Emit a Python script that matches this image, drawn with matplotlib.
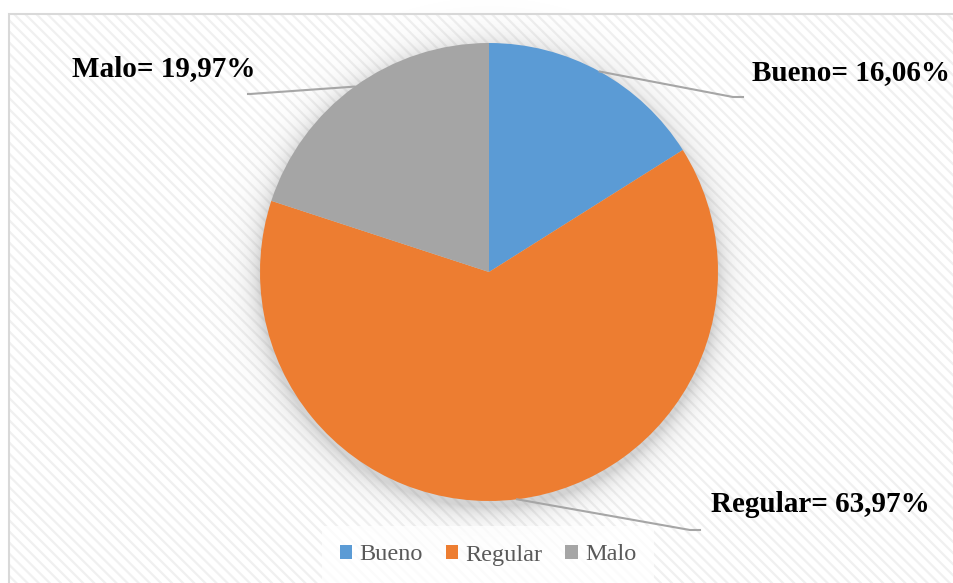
import numpy as np
import matplotlib
matplotlib.use("Agg")
import matplotlib.pyplot as plt
from matplotlib.patches import Rectangle, Patch
from matplotlib.font_manager import FontProperties, findfont

# datos del grafico
categorias = ["Bueno", "Regular", "Malo"]
porcentajes = [16.06, 63.97, 19.97]
colores = ["#5b9bd5", "#ed7d31", "#a5a5a5"]
etiquetas = ["Bueno= 16,06%", "Regular= 63,97%", "Malo= 19,97%"]

W, H = 954, 583
plt.rcParams["hatch.linewidth"] = 1.6

# fuente serif negrita tomada directo del archivo
ruta_negrita = findfont(FontProperties(family="Liberation Serif", weight="bold"))
fuente_et = FontProperties(fname=ruta_negrita, size=21)

fig = plt.figure(figsize=(W / 100, H / 100), dpi=100)
ax = fig.add_axes([0, 0, 1, 1])
ax.set_xlim(0, W)
ax.set_ylim(0, H)
ax.set_aspect("equal")
ax.axis("off")

# fondo con rayas diagonales y marco
ax.add_patch(Rectangle((9, -5), W, H - 14 + 5, facecolor="white",
                       edgecolor="#f0f0f0", linewidth=0, hatch="\\\\\\", zorder=0))
ax.add_patch(Rectangle((9, -5), W, H - 14 + 5, facecolor="none",
                       edgecolor="#d9d9d9", linewidth=1.5, zorder=1))

# centro y radio del pastel (en pixeles, y hacia arriba)
cx, cy, r = 489, H - 272, 229

# sombra difusa alrededor del pastel
xx, yy = np.meshgrid(np.arange(W) + 0.5, np.arange(H) + 0.5)
d = np.hypot(xx - cx, yy - (cy - 6)) - r
alfa = np.where(d > 0, 0.28 * np.exp(-d / 12.0), 0.28)
sombra = np.zeros((H, W, 4))
sombra[..., :3] = 0.4
sombra[..., 3] = alfa
ax.imshow(sombra, extent=(0, W, 0, H), origin="lower", zorder=2,
          interpolation="bilinear")

ax.pie(porcentajes, colors=colores, startangle=90, counterclock=False,
       center=(cx, cy), radius=r, frame=True,
       wedgeprops=dict(linewidth=0, zorder=3))
ax.set_xlim(0, W)
ax.set_ylim(0, H)
ax.axis("off")

# lineas guia y etiquetas
codos = [[(733, 97), (743, 97)], [(690, 530), (700, 530)], [(250, 94), (248, 94)]]
textos = [(752, 73), (711, 505), (72, 69)]
acum = 0.0
for p, codo, (tx, ty), et in zip(porcentajes, codos, textos, etiquetas):
    medio = acum + p / 2
    acum += p
    ang = np.deg2rad(90 - 360 * medio / 100)
    px, py = cx + r * np.cos(ang), cy + r * np.sin(ang)
    xs = [px] + [c[0] for c in codo]
    ys = [py] + [H - c[1] for c in codo]
    ax.plot(xs, ys, color="#a6a6a6", linewidth=1.5, zorder=4)
    ax.text(tx, H - ty, et, fontproperties=fuente_et,
            va="center", ha="left", zorder=5)

# leyenda
manijas = [Patch(facecolor=c, edgecolor="none") for c in colores]
ley = ax.legend(manijas, categorias, loc="center", ncol=3,
                bbox_to_anchor=(488 / W, 28 / H), frameon=True,
                prop={"family": "Liberation Serif", "size": 17.5},
                handlelength=0.5, handleheight=0.5, handletextpad=0.3,
                columnspacing=0.95, borderpad=0.45, borderaxespad=0)
ley.get_frame().set_facecolor("white")
ley.get_frame().set_alpha(0.75)
ley.get_frame().set_edgecolor("none")
ley.get_frame().set_boxstyle("square")
for t in ley.get_texts():
    t.set_color("#595959")

fig.savefig("out.png", dpi=100)
